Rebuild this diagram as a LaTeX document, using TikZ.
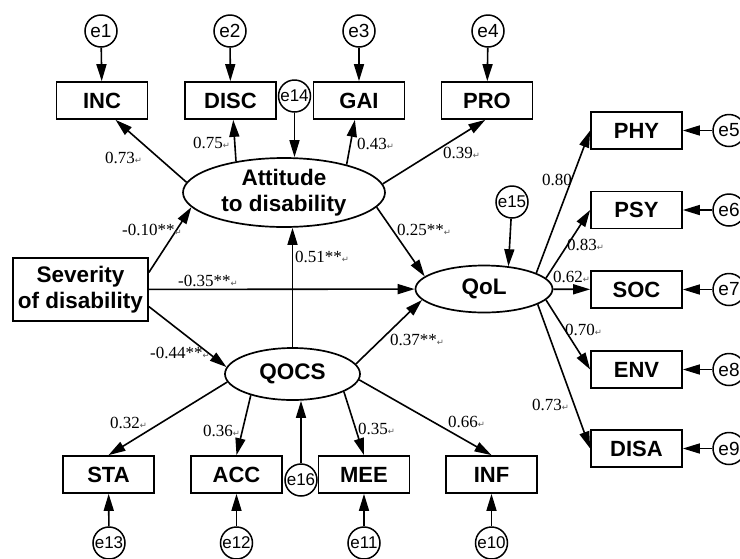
\documentclass[tikz,border=0pt]{standalone}
\usepackage{fontspec}
\setmainfont{Liberation Sans}
\newfontfamily\numfont{Liberation Serif}
\newfontfamily\symfont{DejaVu Sans}
\usetikzlibrary{arrows.meta,shapes.geometric}
\newcommand\rt{{\symfont\fontsize{8.5}{8.5}\selectfont\color{black!65}↵}}
\tikzset{
  obs/.style={draw, line width=1.7pt, minimum width=91pt, minimum height=37pt, inner sep=0pt, font=\bfseries\fontsize{22}{22}\selectfont},
  lat/.style={draw, ellipse, line width=1.7pt, inner sep=0pt, align=center, font=\bfseries\fontsize{22.5}{26}\selectfont},
  err/.style={draw, circle, line width=1.5pt, minimum size=32pt, inner sep=0pt, font=\fontsize{19}{19}\selectfont},
  errw/.style={err, font=\fontsize{17}{17}\selectfont},
  coef/.style={anchor=base west, inner sep=0pt, font=\numfont\fontsize{17}{17}\selectfont},
  arr/.style={line width=1.6pt, -{Triangle[length=17pt,width=10pt]}}
}

\begin{document}
\begin{tikzpicture}[x=1pt, y=-1pt]
                \clip (0,0) rectangle (740,558);
                \node[lat, minimum width=202pt, minimum height=69pt] (att) at (284,192.5) {Attitude\\to disability};
                \node[lat, minimum width=135pt, minimum height=52pt] (qocs) at (292.5,374) {QOCS};
                \node[lat, minimum width=137pt, minimum height=47pt] (qol) at (484,289) {QoL};
                \node[obs, minimum width=135pt, minimum height=63pt, align=center, font=\bfseries\fontsize{22.5}{26}\selectfont] (sev) at (80.5,289.5) {Severity\\of disability};
                \node[obs] (INC) at (102,100.5) {INC};
                \node[obs] (DISC) at (230.5,100.5) {DISC};
                \node[obs] (GAI) at (359,100.5) {GAI};
                \node[obs] (PRO) at (487,100.5) {PRO};
                \node[obs] (PHY) at (636.5,130.5) {PHY};
                \node[obs] (PSY) at (636.5,210) {PSY};
                \node[obs] (SOC) at (636.5,289.5) {SOC};
                \node[obs] (ENV) at (636.5,369.5) {ENV};
                \node[obs] (DISA) at (636.5,448.5) {DISA};
                \node[obs] (STA) at (108.5,474.5) {STA};
                \node[obs] (ACC) at (236.5,474.5) {ACC};
                \node[obs] (MEE) at (364,474.5) {MEE};
                \node[obs] (INF) at (491.5,474.5) {INF};
                \node[err] (e1) at (101,31) {e1};
                \node[err] (e2) at (230,31) {e2};
                \node[err] (e3) at (359,31) {e3};
                \node[err] (e4) at (488,31) {e4};
                \node[err] (e5) at (729,130.5) {e5};
                \node[err] (e6) at (729,210) {e6};
                \node[err] (e7) at (729,289.5) {e7};
                \node[err] (e8) at (729,369.5) {e8};
                \node[err] (e9) at (729,448.5) {e9};
                \node[errw] (e10) at (491.5,543) {e10};
                \node[errw] (e11) at (364,543) {e11};
                \node[errw] (e12) at (236.5,543) {e12};
                \node[errw] (e13) at (109,543) {e13};
                \node[errw] (e14) at (294.5,96) {e14};
                \node[errw] (e15) at (512,202) {e15};
                \node[errw] (e16) at (301,480) {e16};
                \foreach \e/\b in {e1/INC, e2/DISC, e3/GAI, e4/PRO, e5/PHY, e6/PSY, e7/SOC, e8/ENV, e9/DISA, e10/INF, e11/MEE, e12/ACC, e13/STA}
                    \draw[arr] (\e) -- (\b);
                \draw[arr] (att.174) -- (INC.-55);
                \draw[arr] (att.147) -- (DISC.-82);
                \draw[arr] (att.24) -- (GAI.-102);
                \draw[arr] (att.5) -- (PRO.-95);
                \draw[arr] (e14) -- (e14 |- att.north);
                \draw[arr] (sev.14) -- (att.189);
                \draw[arr] (sev) -- (qol);
                \draw[arr] (sev.-14) -- (qocs.174);
                \draw[arr] (qocs.north) -- (qocs.north |- att.south);
                \draw[arr] (att.-9) -- (qol.168);
                \draw[arr] (qocs.9) -- (qol.190);
                \draw[arr] (e15) -- (qol.43);
                \draw[arr] (qol.17) -- (PHY.west);
                \draw[arr] (qol.10) -- (PSY.west);
                \draw[arr] (qol) -- (SOC);
                \draw[arr] (qol.-10) -- (ENV.west);
                \draw[arr] (qol.-16) -- (DISA.west);
                \draw[arr] (qocs.187) -- (STA.north);
                \draw[arr] (qocs.-153) -- (ACC.north);
                \draw[arr] (e16) -- (e16 |- qocs.south);
                \draw[arr] (qocs.-19) -- (MEE.north);
                \draw[arr] (qocs.-5) -- (INF.north);
                \node[coef] (cINC) at (105,163) {0.73\rt};
                \node[coef] (cDISC) at (193,148) {0.75\rt};
                \node[coef] (cGAI) at (357,149) {0.43\rt};
                \node[coef] (cPRO) at (443,158) {0.39\rt};
                \node[coef] (cSevAtt) at (122,235) {-0.10**\rt};
                \node[coef] (cQocsAtt) at (295,262) {0.51**\rt};
                \node[coef] (cSevQol) at (178,286) {-0.35**\rt};
                \node[coef] (cAttQol) at (397,235) {0.25**\rt};
                \node[coef] (cSevQocs) at (150,358) {-0.44**\rt};
                \node[coef] (cQocsQol) at (390,345) {0.37**\rt};
                \node[coef] (cPHY) at (542,185) {0.80};
                \node[coef] (cPSY) at (567,250) {0.83\rt};
                \node[coef] (cSOC) at (553,282) {0.62\rt};
                \node[coef] (cENV) at (565,335) {0.70\rt};
                \node[coef] (cDISA) at (532,410) {0.73\rt};
                \node[coef] (cSTA) at (110,428) {0.32\rt};
                \node[coef] (cACC) at (203,436) {0.36\rt};
                \node[coef] (cMEE) at (358,434) {0.35\rt};
                \node[coef] (cINF) at (448,427) {0.66\rt};
            \end{tikzpicture}
\end{document}
